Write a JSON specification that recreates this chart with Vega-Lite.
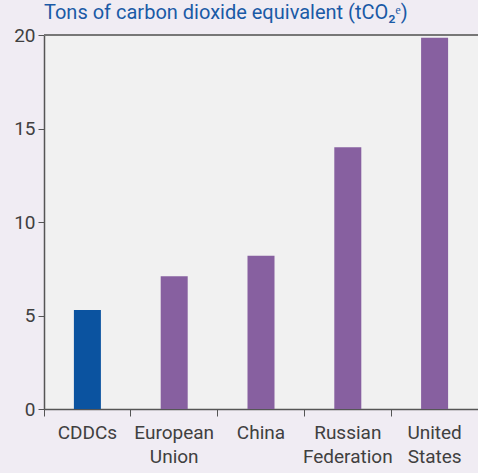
{
  "$schema": "https://vega.github.io/schema/vega-lite/v6.json",
  "width": 434,
  "height": 374,
  "autosize": {"type": "none"},
  "padding": {"left": 44, "top": 35, "right": 0, "bottom": 64},
  "background": "#f0ecf3",
  "config": {
    "view": {"fill": "#f1f1f1", "stroke": null},
    "font": "Roboto"
  },
  "title": {
    "text": "Tons of carbon dioxide equivalent (tCO₂ᵉ)",
    "anchor": "start",
    "frame": "group",
    "color": "#1a5aa6",
    "fontSize": 20,
    "fontWeight": "normal",
    "font": "Roboto",
    "offset": 3
  },
  "data": {
    "values": [
      {"region": "CDDCs", "value": 5.3, "group": "CDDC"},
      {"region": "European Union", "value": 7.1, "group": "Other"},
      {"region": "China", "value": 8.2, "group": "Other"},
      {"region": "Russian Federation", "value": 14.0, "group": "Other"},
      {"region": "United States", "value": 19.85, "group": "Other"}
    ]
  },
  "layer": [
    {
      "mark": {"type": "bar", "size": 27},
      "encoding": {
        "x": {
          "field": "region",
          "type": "nominal",
          "sort": null,
          "scale": {"paddingInner": 0, "paddingOuter": 0},
          "axis": {
            "title": null,
            "labelAngle": 0,
            "labelExpr": "split(datum.label, ' ')",
            "labelFontSize": 19,
            "labelColor": "#404040",
            "labelPadding": 7,
            "labelLineHeight": 24,
            "bandPosition": 0,
            "tickColor": "#555",
            "tickSize": 7,
            "domainColor": "#555",
            "domainWidth": 1.5,
            "labelFont": "Roboto"
          }
        },
        "y": {
          "field": "value",
          "type": "quantitative",
          "scale": {"domain": [0, 20], "nice": false},
          "axis": {
            "title": null,
            "values": [0, 5, 10, 15, 20],
            "grid": false,
            "labelFontSize": 19,
            "labelColor": "#404040",
            "labelPadding": 3,
            "tickColor": "#555",
            "tickSize": 6,
            "domainColor": "#555",
            "domainWidth": 1.5,
            "labelFont": "Roboto"
          }
        },
        "color": {
          "field": "group",
          "type": "nominal",
          "scale": {"domain": ["CDDC", "Other"], "range": ["#0b53a0", "#8760a0"]},
          "legend": null
        }
      }
    },
    {
      "mark": {"type": "rule", "color": "#777", "strokeWidth": 1.5},
      "encoding": {"y": {"datum": 20}}
    }
  ]
}
